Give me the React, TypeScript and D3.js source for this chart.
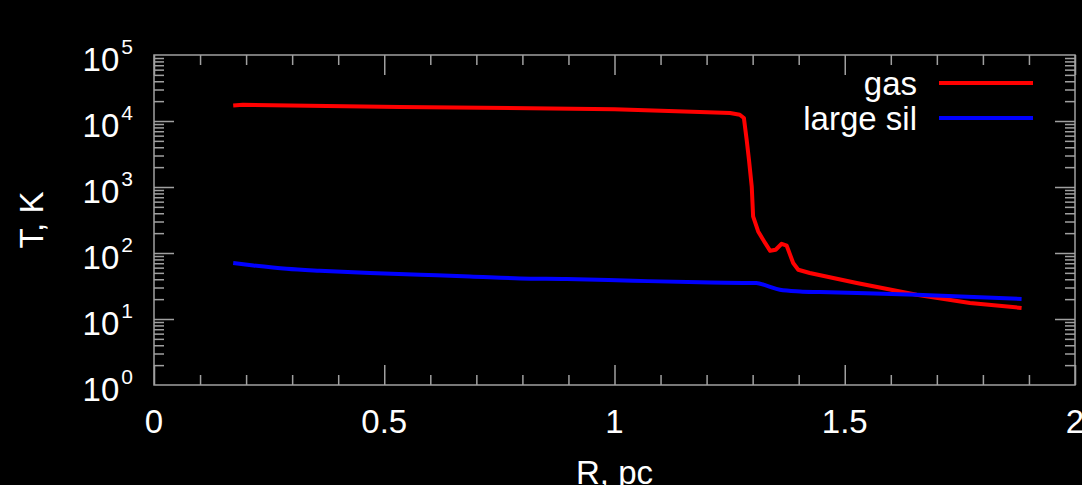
import React, { useEffect, useRef } from 'react';
import * as d3 from 'd3';

// gas temperature profile (R in pc, T in K)
const gasR = [0.172, 0.193, 0.534, 1.0, 1.185, 1.251, 1.272, 1.281, 1.287, 1.292, 1.298, 1.301, 1.312, 1.327, 1.338, 1.350, 1.363, 1.374, 1.388, 1.399, 1.424, 1.526, 1.656, 1.772, 1.884];
const gasT = [17200, 17650, 16300, 15100, 13700, 13200, 12450, 11100, 5210, 2590, 1020, 359, 212, 142, 108, 112, 138, 129, 70.5, 55.8, 49.8, 35.1, 23.3, 17.5, 14.7];

// large silicate grain temperature
const silR = [0.172, 0.216, 0.288, 0.360, 0.469, 0.578, 0.686, 0.795, 0.896, 1.040, 1.185, 1.308, 1.330, 1.359, 1.403, 1.446, 1.656, 1.884];
const silT = [70.5, 64.9, 57.8, 53.9, 49.8, 46.9, 44.2, 41.2, 40.4, 38.0, 35.9, 35.1, 32.0, 27.8, 26.2, 25.6, 23.3, 20.1];

const xMajor = [0, 0.5, 1, 1.5, 2];
const yDecades = [0, 1, 2, 3, 4, 5];

const App: React.FC = () => {
  const svgRef = useRef<SVGSVGElement>(null);

  useEffect(() => {
    document.body.style.margin = '0';
    document.body.style.background = '#000';
    if (!svgRef.current) return;

    const svg = d3.select(svgRef.current);
    svg.selectAll('*').remove();

    const left = 154, right = 1075, top = 55, bottom = 385;
    const font = '"Liberation Sans", Arial, Helvetica, sans-serif';
    const axisColor = '#a0a0a0';

    const x = d3.scaleLinear().domain([0, 2]).range([left, right]);
    const y = d3.scaleLog().domain([1, 1e5]).range([bottom, top]);

    svg.append('rect')
      .attr('width', 1082).attr('height', 485).attr('fill', '#000');

    const xMinor = d3.range(0, 2.0001, 0.1).filter(v => !xMajor.some(m => Math.abs(m - v) < 1e-6));
    const yMinor: number[] = [];
    for (let d = 0; d < 5; d++) for (let k = 2; k <= 9; k++) yMinor.push(k * Math.pow(10, d));
    const yMajor = yDecades.map(d => Math.pow(10, d));

    const styleAxis = (g: d3.Selection<SVGGElement, unknown, null, undefined>) => {
      g.select('.domain').remove();
      g.selectAll('line').attr('stroke', axisColor).attr('stroke-width', 1.5);
    };

    // ticks, inward on all four sides
    const addX = (vals: number[], len: number) => {
      svg.append('g').attr('transform', `translate(0,${bottom})`)
        .call(d3.axisBottom(x).tickValues(vals).tickSize(-len).tickFormat(() => ''))
        .call(styleAxis);
      svg.append('g').attr('transform', `translate(0,${top})`)
        .call(d3.axisTop(x).tickValues(vals).tickSize(-len).tickFormat(() => ''))
        .call(styleAxis);
    };
    const addY = (vals: number[], len: number) => {
      svg.append('g').attr('transform', `translate(${left},0)`)
        .call(d3.axisLeft(y).tickValues(vals).tickSize(-len).tickFormat(() => ''))
        .call(styleAxis);
      svg.append('g').attr('transform', `translate(${right},0)`)
        .call(d3.axisRight(y).tickValues(vals).tickSize(-len).tickFormat(() => ''))
        .call(styleAxis);
    };
    addX(xMinor, 10);
    addX(xMajor, 20);
    addY(yMinor, 10);
    addY(yMajor.slice(1, -1), 20);

    // frame
    svg.append('rect')
      .attr('x', left).attr('y', top)
      .attr('width', right - left).attr('height', bottom - top)
      .attr('fill', 'none').attr('stroke', axisColor).attr('stroke-width', 1.5);

    // x tick labels
    svg.append('g').selectAll('text').data(xMajor).join('text')
      .attr('x', d => x(d)).attr('y', bottom + 48)
      .attr('text-anchor', 'middle')
      .attr('fill', '#fff').attr('font-family', font).attr('font-size', 33)
      .text(d => d3.format('~g')(d));

    // y tick labels 10^n
    const yl = svg.append('g').selectAll('text').data(yDecades).join('text')
      .attr('x', 133).attr('y', d => y(Math.pow(10, d)) + 16)
      .attr('text-anchor', 'end')
      .attr('fill', '#fff').attr('font-family', font).attr('font-size', 33);
    yl.append('tspan').text('10');
    yl.append('tspan').attr('font-size', 21).attr('dy', -17).attr('dx', 2).text(d => String(d));

    // axis titles
    svg.append('text')
      .attr('x', (left + right) / 2).attr('y', 484)
      .attr('text-anchor', 'middle')
      .attr('fill', '#fff').attr('font-family', font).attr('font-size', 33)
      .text('R, pc');
    svg.append('text')
      .attr('transform', `translate(43,${(top + bottom) / 2}) rotate(-90)`)
      .attr('text-anchor', 'middle')
      .attr('fill', '#fff').attr('font-family', font).attr('font-size', 33)
      .text('T, K');

    const series = [
      { name: 'gas', color: '#ff0000', curve: d3.curveLinear, pts: gasR.map((r, i) => [r, gasT[i]] as [number, number]) },
      { name: 'large sil', color: '#0000ff', curve: d3.curveMonotoneX, pts: silR.map((r, i) => [r, silT[i]] as [number, number]) },
    ];

    series.forEach(s => {
      const line = d3.line<[number, number]>()
        .x(d => x(d[0]))
        .y(d => y(d[1]))
        .curve(s.curve);
      svg.append('path')
        .datum(s.pts)
        .attr('fill', 'none')
        .attr('stroke', s.color)
        .attr('stroke-width', 4)
        .attr('stroke-linejoin', 'round')
        .attr('d', line);
    });

    // legend
    series.forEach((s, i) => {
      const by = 95 + i * 35;
      svg.append('text')
        .attr('x', 917).attr('y', by)
        .attr('text-anchor', 'end')
        .attr('fill', '#fff').attr('font-family', font).attr('font-size', 33)
        .text(s.name);
      svg.append('line')
        .attr('x1', 939).attr('x2', 1033)
        .attr('y1', by - 12).attr('y2', by - 12)
        .attr('stroke', s.color).attr('stroke-width', 4);
    });
  }, []);

  return <svg ref={svgRef} width={1082} height={485} style={{ display: 'block' }} />;
};

export default App;
